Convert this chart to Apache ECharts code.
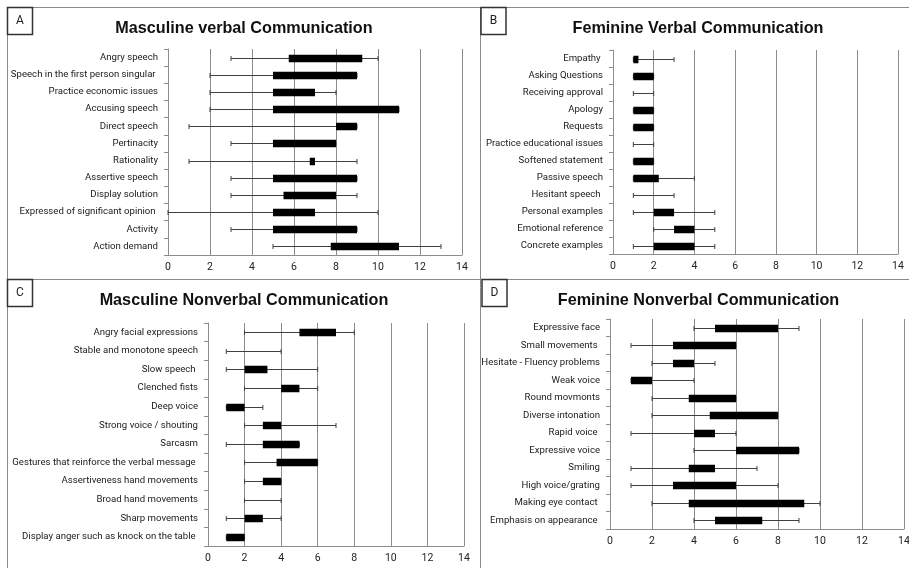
<!DOCTYPE html>
<html>
<head>
<meta charset="utf-8">
<title>Communication</title>
<script src="https://cdn.jsdelivr.net/npm/echarts@6/dist/echarts.min.js"></script>
<style>
html, body { margin: 0; padding: 0; background: #fff; }
#main { width: 909px; height: 568px; }
</style>
</head>
<body>
<div id="main"></div>
<script>
// A - masculine verbal
var catsA = ['Angry speech', 'Speech in the first person singular ', 'Practice economic issues', 'Accusing speech', 'Direct speech', 'Pertinacity', 'Rationality', 'Assertive speech', 'Display solution', 'Expressed of significant opinion ', 'Activity', 'Action demand'];
var minA = [3, 2, 2, 2, 1, 3, 1, 3, 3, 0, 3, 5];
var q1A  = [5.75, 5, 5, 5, 8, 5, 6.75, 5, 5.5, 5, 5, 7.75];
var q3A  = [9.25, 9, 7, 11, 9, 8, 7, 9, 8, 7, 9, 11];
var maxA = [10, 9, 8, 11, 9, 8, 9, 9, 9, 10, 9, 13];

// B - feminine verbal
var catsB = ['Empathy ', 'Asking Questions', 'Receiving approval', 'Apology', 'Requests', 'Practice educational issues', 'Softened statement', 'Passive speech', 'Hesitant speech ', 'Personal examples', 'Emotional reference', 'Concrete examples'];
var minB = [1, 1, 1, 1, 1, 1, 1, 1, 1, 1, 2, 1];
var q1B  = [1, 1, 1, 1, 1, 1, 1, 1, 1, 2, 3, 2];
var q3B  = [1.25, 2, 1, 2, 2, 1, 2, 2.25, 1, 3, 4, 4];
var maxB = [3, 2, 2, 2, 2, 2, 2, 4, 3, 5, 5, 5];

// C - masculine nonverbal
var catsC = ['Angry facial expressions', 'Stable and monotone speech', 'Slow speech ', 'Clenched fists', 'Deep voice', 'Strong voice / shouting', 'Sarcasm', 'Gestures that reinforce the verbal message ', 'Assertiveness hand movements', 'Broad hand movements', 'Sharp movements', 'Display anger such as knock on the table '];
var minC = [2, 1, 1, 2, 1, 2, 1, 2, 2, 2, 1, 1];
var q1C  = [5, 1, 2, 4, 1, 3, 3, 3.75, 3, 2, 2, 1];
var q3C  = [7, 1, 3.25, 5, 2, 4, 5, 6, 4, 2, 3, 2];
var maxC = [8, 4, 6, 6, 3, 7, 5, 6, 4, 4, 4, 2];

// D - feminine nonverbal
var catsD = ['Expressive face', 'Small movements ', 'Hesitate - Fluency problems', 'Weak voice', 'Round movmonts', 'Diverse intonation', 'Rapid voice ', 'Expressive voice', 'Smiling', 'High voice/grating', 'Making eye contact ', 'Emphasis on appearance '];
var minD = [4, 1, 2, 1, 2, 2, 1, 4, 1, 1, 2, 4];
var q1D  = [5, 3, 3, 1, 3.75, 4.75, 4, 6, 3.75, 3, 3.75, 5];
var q3D  = [8, 6, 4, 2, 6, 8, 5, 9, 5, 6, 9.25, 7.25];
var maxD = [9, 6, 5, 4, 6, 8, 6, 9, 7, 8, 10, 9];

var xTicks = ['0', '2', '4', '6', '8', '10', '12', '14'];

var labelFont = "Roboto, 'Liberation Sans', sans-serif";
var titleFont = "'Liberation Sans', sans-serif";
var gridCol = '#8c8c8c';

// whisker min..max with caps, black box q1..q3
function renderBox(params, api) {
	var cat = api.value(0);
	var pMin = api.coord([api.value(1), cat]);
	var pQ1 = api.coord([api.value(2), cat]);
	var pQ3 = api.coord([api.value(3), cat]);
	var pMax = api.coord([api.value(4), cat]);
	var y = Math.round(pMin[1]) + 0.5;
	var cap = 2.5;
	var boxH = 7.5;
	var ln = { stroke: '#404040', lineWidth: 1 };
	return {
		type: 'group',
		children: [
			{ type: 'line', shape: { x1: pMin[0], y1: y, x2: pMax[0], y2: y }, style: ln },
			{ type: 'line', shape: { x1: pMin[0], y1: y - cap, x2: pMin[0], y2: y + cap }, style: ln },
			{ type: 'line', shape: { x1: pMax[0], y1: y - cap, x2: pMax[0], y2: y + cap }, style: ln },
			{ type: 'rect', shape: { x: pQ1[0], y: y - boxH / 2, width: pQ3[0] - pQ1[0], height: boxH }, style: { fill: '#000' } }
		]
	};
}

var grids = [];
var xAxes = [];
var yAxes = [];
var series = [];

function addPanel(box, cats, mins, q1s, q3s, maxs) {
	var i = grids.length;
	grids.push({ left: box[0], top: box[1], width: box[2], height: box[3], containLabel: false, outerBoundsMode: 'none' });
	xAxes.push({
		type: 'value', gridIndex: i, min: 0, max: 14, interval: 2,
		axisLine: { show: true, lineStyle: { color: gridCol, width: 1 } },
		axisTick: { show: false },
		axisLabel: {
			margin: 7, color: '#222', fontSize: 10.5, fontFamily: labelFont,
			formatter: function (v) { return xTicks[v / 2]; }
		},
		splitLine: { show: true, lineStyle: { color: gridCol, width: 1 } }
	});
	yAxes.push({
		type: 'category', gridIndex: i, data: cats, inverse: true,
		axisLine: { show: true, lineStyle: { color: gridCol, width: 1 } },
		axisTick: { show: true, length: 4, lineStyle: { color: gridCol } },
		axisLabel: { margin: 10, color: '#1a1a1a', fontSize: 9.6, fontFamily: labelFont },
		splitLine: { show: false }
	});
	var rows = [];
	for (var k = 0; k < cats.length; k++) {
		rows.push([k, mins[k], q1s[k], q3s[k], maxs[k]]);
	}
	series.push({
		type: 'custom', xAxisIndex: i, yAxisIndex: i,
		renderItem: renderBox,
		encode: { x: [1, 2, 3, 4], y: 0 },
		data: rows,
		silent: true
	});
}

addPanel([168, 49, 294, 206], catsA, minA, q1A, q3A, maxA);
addPanel([613, 50, 285, 204], catsB, minB, q1B, q3B, maxB);
addPanel([208, 323, 256, 223], catsC, minC, q1C, q3C, maxC);
addPanel([610, 319, 294, 210], catsD, minD, q1D, q3D, maxD);

// panel frames, letter boxes and titles
var frameCol = '#8a8a8a';
function hline(x1, x2, y) { return { type: 'line', shape: { x1: x1, y1: y, x2: x2, y2: y }, style: { stroke: frameCol, lineWidth: 1 } }; }
function vline(x, y1, y2) { return { type: 'line', shape: { x1: x, y1: y1, x2: x, y2: y2 }, style: { stroke: frameCol, lineWidth: 1 } }; }
function letterBox(x, y, t) {
	return {
		type: 'group', x: x, y: y,
		children: [
			{ type: 'rect', shape: { x: 0, y: 0, width: 25, height: 27 }, style: { fill: '#fff', stroke: '#333', lineWidth: 1.5 } },
			{ type: 'text', x: 12.5, y: 13, style: { text: t, align: 'center', verticalAlign: 'middle', fontSize: 12, fontFamily: labelFont, fill: '#222' } }
		]
	};
}
function titleText(x, y, t) {
	return { type: 'text', x: x, y: y, style: { text: t, align: 'center', verticalAlign: 'middle', fontSize: 16.2, fontWeight: 'bold', fontFamily: titleFont, fill: '#111' } };
}

var graphics = [
	hline(7, 909, 7.5),
	vline(7.5, 7, 568),
	vline(480.5, 7, 568),
	hline(7, 909, 279.5),
	letterBox(7.5, 7.5, 'A'),
	letterBox(481, 7.5, 'B'),
	letterBox(7.5, 279.5, 'C'),
	letterBox(482, 279.5, 'D'),
	titleText(244, 28.5, 'Masculine verbal Communication'),
	titleText(698, 28.5, 'Feminine Verbal Communication'),
	titleText(244, 300.5, 'Masculine Nonverbal Communication'),
	titleText(698.5, 300.5, 'Feminine Nonverbal Communication')
];

var chart = echarts.init(document.getElementById('main'));
chart.setOption({
	animation: false,
	backgroundColor: '#fff',
	grid: grids,
	xAxis: xAxes,
	yAxis: yAxes,
	series: series,
	graphic: graphics
});
</script>
</body>
</html>
